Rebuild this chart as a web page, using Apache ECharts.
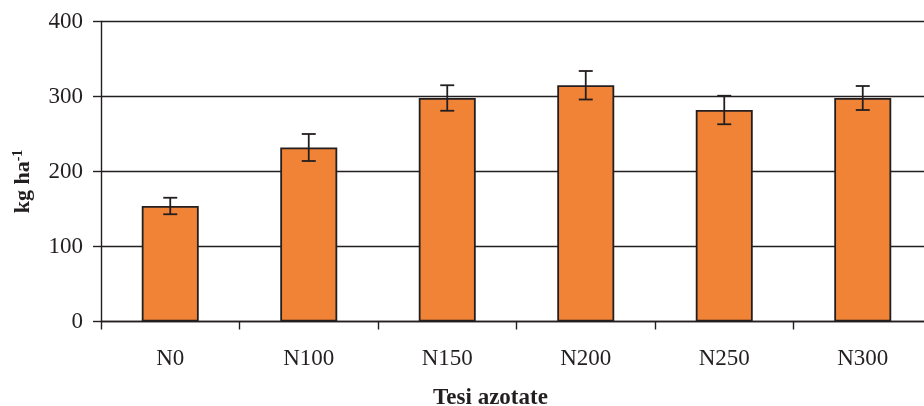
<!DOCTYPE html>
<html>
<head>
<meta charset="utf-8">
<style>
  html, body { margin: 0; padding: 0; background: #fff; }
  #chart { width: 924px; height: 406px; }
</style>
<script src="https://cdn.jsdelivr.net/npm/echarts@6/dist/echarts.min.js"></script>
</head>
<body>
<div id="chart"></div>
<script>
// Nitrogen treatments and mean values (kg ha-1) with their error half-widths
const categories = ['N0', 'N100', 'N150', 'N200', 'N250', 'N300'];
const means = [154, 232, 298, 315, 282, 298];
const errors = [11, 18, 17, 19, 19, 16];
const yTicks = { min: 0, max: 400, interval: 100 };

const ink = '#231f20';
const fill = '#f08335';
const serif = '"Liberation Serif", "Times New Roman", serif';

const errorData = categories.map((c, i) => [i, means[i] - errors[i], means[i] + errors[i]]);

const chart = echarts.init(document.getElementById('chart'), null, { renderer: 'canvas' });

chart.setOption({
  backgroundColor: '#ffffff',
  animation: false,
  grid: {
    left: 101, right: -8, top: 21.5, bottom: 84.5,
    containLabel: false, outerBoundsMode: 'none'
  },
  xAxis: {
    type: 'category',
    data: categories,
    boundaryGap: true,
    name: 'Tesi azotate',
    nameLocation: 'middle',
    nameGap: 65,
    nameTextStyle: {
      fontFamily: serif, fontSize: 23, fontWeight: 'bold', color: ink,
      padding: [0, 52, 0, 0]
    },
    axisLine: { show: true, lineStyle: { color: ink, width: 1.4 } },
    axisTick: { show: true, length: 8, inside: false, alignWithLabel: false, lineStyle: { color: ink, width: 1.4 } },
    axisLabel: { fontFamily: serif, fontSize: 23, color: ink, margin: 26 },
    splitLine: { show: false }
  },
  yAxis: {
    type: 'value',
    min: yTicks.min,
    max: yTicks.max,
    interval: yTicks.interval,
    name: '{a|kg ha}{b|-1}',
    nameLocation: 'middle',
    nameGap: 66,
    nameRotate: 90,
    nameTextStyle: {
      padding: [0, 20, 0, 0],
      rich: {
        a: { fontFamily: serif, fontSize: 22, fontWeight: 'bold', color: ink, lineHeight: 24 },
        b: { fontFamily: serif, fontSize: 14, fontWeight: 'bold', color: ink, verticalAlign: 'top', lineHeight: 14 }
      }
    },
    axisLine: { show: true, lineStyle: { color: ink, width: 1.4 } },
    axisTick: { show: true, length: 8, inside: false, lineStyle: { color: ink, width: 1.4 } },
    axisLabel: { fontFamily: serif, fontSize: 23, color: ink, margin: 18 },
    splitLine: { show: true, lineStyle: { color: ink, width: 1.4 } }
  },
  series: [
    {
      type: 'bar',
      data: means,
      barWidth: 57,
      itemStyle: { color: fill, borderColor: ink, borderWidth: 1.8 },
      z: 3
    },
    {
      type: 'custom',
      data: errorData,
      z: 4,
      renderItem: function (params, api) {
        const x = api.value(0);
        const lo = api.coord([x, api.value(1)]);
        const hi = api.coord([x, api.value(2)]);
        const cap = 7;
        const style = { stroke: ink, lineWidth: 1.8 };
        return {
          type: 'group',
          children: [
            { type: 'line', shape: { x1: lo[0], y1: lo[1], x2: hi[0], y2: hi[1] }, style: style },
            { type: 'line', shape: { x1: hi[0] - cap, y1: hi[1], x2: hi[0] + cap, y2: hi[1] }, style: style },
            { type: 'line', shape: { x1: lo[0] - cap, y1: lo[1], x2: lo[0] + cap, y2: lo[1] }, style: style }
          ]
        };
      }
    }
  ]
});
</script>
</body>
</html>
